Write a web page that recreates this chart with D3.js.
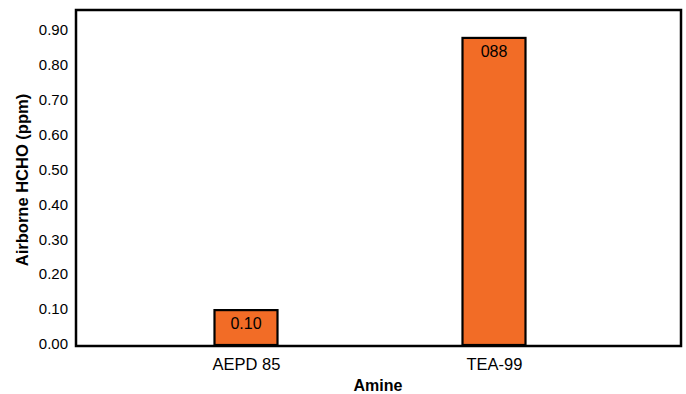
<!DOCTYPE html>
<html>
<head>
<meta charset="utf-8">
<script src="https://cdn.jsdelivr.net/npm/d3@7"></script>
<style>
  html, body { margin: 0; padding: 0; background: #fff; }
  svg text { font-family: "Liberation Sans", Arial, Helvetica, sans-serif; fill: #000; }
</style>
</head>
<body>
<svg id="chart" width="686" height="394"></svg>
<script>
// Airborne formaldehyde by amine
const categories = ["AEPD 85", "TEA-99"];
const values = [0.10, 0.88];
const valueLabels = ["0.10", "088"];
const yTicks = [0.00, 0.10, 0.20, 0.30, 0.40, 0.50, 0.60, 0.70, 0.80, 0.90];

const W = 686, H = 394;
const margin = { top: 10, right: 5, bottom: 48, left: 76 };
const svg = d3.select("#chart");

const y = d3.scaleLinear().domain([0, 0.96]).range([345, margin.top]);
const x = d3.scalePoint().domain(categories).range([margin.left + 170, margin.left + 418]);
const barW = 63;

// bars
svg.append("g").selectAll("rect").data(values).join("rect")
  .attr("x", (d, i) => x(categories[i]) - barW / 2)
  .attr("y", d => y(d))
  .attr("width", barW)
  .attr("height", d => y(0) - y(d))
  .attr("fill", "#F26C26")
  .attr("stroke", "#000")
  .attr("stroke-width", 2.2);

// value labels inside bar tops
svg.append("g").selectAll("text").data(values).join("text")
  .attr("x", (d, i) => x(categories[i]))
  .attr("y", d => y(d) + 13)
  .attr("dy", "0.35em")
  .attr("text-anchor", "middle")
  .style("font-size", "16px")
  .text((d, i) => valueLabels[i]);

// y axis labels (no tick marks)
const yAxis = d3.axisLeft(y).tickValues(yTicks).tickFormat(d3.format(".2f")).tickSize(0).tickPadding(8);
svg.append("g").attr("transform", `translate(${margin.left},0)`).call(yAxis)
  .call(g => g.select(".domain").remove())
  .call(g => g.selectAll("text").style("font-size", "15px").attr("dy", "0.25em"));

// x axis labels
const xAxis = d3.axisBottom(x).tickSize(0).tickPadding(13);
svg.append("g").attr("transform", `translate(0,${y(0)})`).call(xAxis)
  .call(g => g.select(".domain").remove())
  .call(g => g.selectAll("text").style("font-size", "16.5px"));

// plot frame
svg.append("rect")
  .attr("x", margin.left)
  .attr("y", margin.top)
  .attr("width", W - margin.right - margin.left)
  .attr("height", y(0) - margin.top + 1)
  .attr("fill", "none")
  .attr("stroke", "#000")
  .attr("stroke-width", 2.5);

// axis titles
svg.append("text")
  .attr("transform", `translate(22,180) rotate(-90)`)
  .attr("text-anchor", "middle")
  .attr("dy", "0.35em")
  .style("font-size", "16.5px")
  .style("font-weight", "bold")
  .text("Airborne HCHO (ppm)");

svg.append("text")
  .attr("x", 378)
  .attr("y", 385)
  .attr("dy", "0.35em")
  .attr("text-anchor", "middle")
  .style("font-size", "16px")
  .style("font-weight", "bold")
  .text("Amine");
</script>
</body>
</html>
